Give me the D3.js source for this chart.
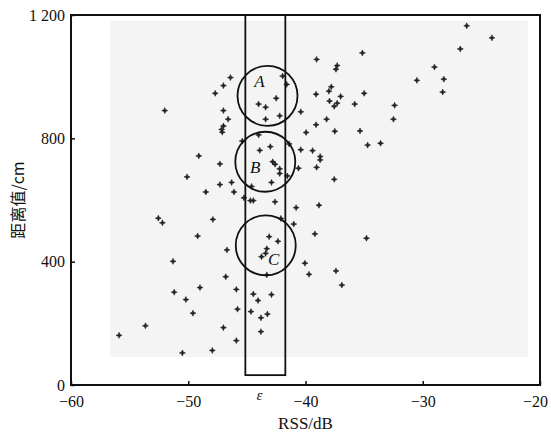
<!DOCTYPE html>
<html lang="zh">
<head>
  <meta charset="UTF-8" />
  <title>RSS vs distance scatter</title>
  <style>
    body { margin: 0; background: #fff; }
    svg { display: block; }
    text { font-family: "Liberation Serif", "DejaVu Serif", serif; fill: #111; }
  </style>
</head>
<body>
  <svg id="chart" width="551" height="435"></svg>

  <script src="https://d3js.org/d3.v7.min.js"></script>
  <script>
    // RSS (dB) of each sample
    const rss = [
      -52.0, -46.4, -47.0, -47.7, -47.0, -46.6, -47.0, -47.15, -47.1, -45.4,
      -49.1, -47.3, -50.1, -47.3, -46.3, -48.5, -46.1, -45.25, -52.55, -52.2,
      -47.9, -49.2, -46.7, -51.3, -46.8, -49.0, -51.2, -45.9, -50.2, -45.8,
      -49.6, -53.65, -47.0, -55.9, -45.9, -50.5, -47.95,
      -41.95, -41.6, -42.5, -44.0, -43.4, -42.2, -43.4, -44.0, -43.0, -43.9,
      -42.8, -42.6, -42.2, -42.2, -41.55, -42.9, -44.6, -44.7, -44.45, -42.6,
      -43.1, -42.35, -43.3, -43.4, -43.75, -43.3, -44.45, -42.9, -44.05, -44.65,
      -43.25, -43.8, -43.8, -41.4, -42.1,
      -26.25, -24.1, -26.8, -35.15, -39.05, -37.3, -37.4, -29.0, -28.2, -30.5,
      -28.3, -37.8, -38.0, -39.1, -37.0, -35.0, -37.95, -37.3, -37.55, -35.8,
      -32.4, -32.5, -40.4, -38.2, -39.1, -39.95, -37.5, -35.35, -34.7, -33.6,
      -40.4, -39.4, -38.75, -38.75, -39.05, -40.6, -37.55, -40.8, -38.85, -41.0,
      -39.2, -34.8, -40.05, -39.7, -37.4, -36.9
    ];
    // distance value (cm) of each sample
    const dist = [
      890, 997, 971, 946, 890, 862, 840, 829, 820, 791,
      743, 717, 675, 650, 657, 626, 626, 607, 541, 526,
      537, 483, 438, 401, 351, 316, 301, 310, 277, 246,
      233, 192, 186, 161, 144, 104, 112,
      1002, 975, 930, 911, 901, 873, 862, 811, 773, 761,
      724, 716, 701, 686, 678, 657, 644, 598, 598, 594,
      481, 466, 442, 427, 416, 357, 295, 293, 274, 238,
      230, 218, 173, 782, 540,
      1165, 1126, 1090, 1077, 1056, 1036, 1024, 1031, 992, 988,
      950, 967, 953, 943, 936, 946, 921, 914, 904, 911,
      907, 862, 886, 862, 844, 819, 823, 824, 778, 784,
      763, 760, 741, 730, 706, 703, 667, 575, 583, 522,
      490, 476, 395, 359, 370, 324
    ];
    const points = rss.map((x, i) => ({ x: x, y: dist[i] }));

    const xTicks = [-60, -50, -40, -30, -20];
    const yTicks = [0, 400, 800, 1200];

    // shaded sampling area and the ε strip
    const shadeX = [-56.67, -21.05];
    const shadeY = [91, 1181];
    const stripX = [-45.13, -41.72];
    const stripY = [32, 1200];
    const circles = [
      { label: "A", x: -43.24, y: 938 },
      { label: "B", x: -43.43, y: 724 },
      { label: "C", x: -43.39, y: 453 }
    ];

    const margin = { left: 71, top: 15, right: 11, bottom: 50 };
    const W = 551, H = 435;
    const svg = d3.select("#chart");

    const x = d3.scaleLinear().domain([-60, -20]).range([margin.left, W - margin.right]);
    const y = d3.scaleLinear().domain([0, 1200]).range([H - margin.bottom, margin.top]);

    const fmtY = d3.formatLocale({ decimal: ".", thousands: " ", grouping: [3], currency: ["", ""] }).format(",");

    // light gray background area
    svg.append("rect")
      .attr("x", x(shadeX[0])).attr("y", y(shadeY[1]))
      .attr("width", x(shadeX[1]) - x(shadeX[0]))
      .attr("height", y(shadeY[0]) - y(shadeY[1]))
      .attr("fill", "#f4f4f4");

    // points: small four-pointed stars
    const star = "M0,-3L0.9,-0.9L3,0L0.9,0.9L0,3L-0.9,0.9L-3,0L-0.9,-0.9Z";
    svg.append("g").selectAll("path")
      .data(points)
      .enter().append("path")
      .attr("d", star)
      .attr("transform", d => `translate(${x(d.x)},${y(d.y)})`)
      .attr("fill", "#222")
      .attr("stroke", "#222")
      .attr("stroke-width", 0.6);

    // ε strip
    svg.append("rect")
      .attr("x", x(stripX[0])).attr("y", y(stripY[1]))
      .attr("width", x(stripX[1]) - x(stripX[0]))
      .attr("height", y(stripY[0]) - y(stripY[1]))
      .attr("fill", "none").attr("stroke", "#111").attr("stroke-width", 1.8);

    // circles
    const cg = svg.append("g");
    cg.selectAll("circle")
      .data(circles)
      .enter().append("circle")
      .attr("cx", d => x(d.x)).attr("cy", d => y(d.y))
      .attr("r", 30)
      .attr("fill", "none").attr("stroke", "#111").attr("stroke-width", 1.8);
    const labelOff = { A: [-8, -9], B: [-10, 11], C: [8, 20] };
    cg.selectAll("text")
      .data(circles)
      .enter().append("text")
      .attr("x", d => x(d.x) + labelOff[d.label][0])
      .attr("y", d => y(d.y) + labelOff[d.label][1])
      .attr("text-anchor", "middle")
      .attr("font-style", "italic")
      .attr("font-size", 17)
      .text(d => d.label);

    // frame
    svg.append("rect")
      .attr("x", margin.left).attr("y", margin.top)
      .attr("width", W - margin.left - margin.right)
      .attr("height", H - margin.top - margin.bottom)
      .attr("fill", "none").attr("stroke", "#111").attr("stroke-width", 2);

    // axes
    const xAxis = svg.append("g")
      .attr("transform", `translate(0,${H - margin.bottom})`)
      .call(d3.axisBottom(x).tickValues(xTicks).tickSize(-4).tickPadding(8));
    const yAxis = svg.append("g")
      .attr("transform", `translate(${margin.left},0)`)
      .call(d3.axisLeft(y).tickValues(yTicks).tickSize(-4).tickPadding(6).tickFormat(fmtY));
    [xAxis, yAxis].forEach(a => {
      a.select(".domain").remove();
      a.selectAll(".tick line").attr("stroke", "#111").attr("stroke-width", 1.5);
      a.selectAll(".tick text")
        .attr("font-family", "'Liberation Serif', serif")
        .attr("font-size", 16).attr("fill", "#111");
    });
    xAxis.selectAll(".tick text").attr("dy", "0.85em");
    xAxis.selectAll(".tick text").filter(d => d === -20).attr("dx", -5);

    // ε label
    svg.append("text")
      .attr("x", x((stripX[0] + stripX[1]) / 2) - 6)
      .attr("y", 400)
      .attr("text-anchor", "middle")
      .attr("font-style", "italic")
      .attr("font-size", 15)
      .text("ε");

    // axis titles
    svg.append("text")
      .attr("x", x(-40)).attr("y", 429)
      .attr("text-anchor", "middle")
      .attr("font-size", 17)
      .text("RSS/dB");
    svg.append("text")
      .attr("transform", `translate(24,${y(600)}) rotate(-90)`)
      .attr("text-anchor", "middle")
      .attr("font-size", 16)
      .style("font-family", "'Noto Sans CJK SC', serif")
      .text("距离值/cm");
  </script>
</body>
</html>
